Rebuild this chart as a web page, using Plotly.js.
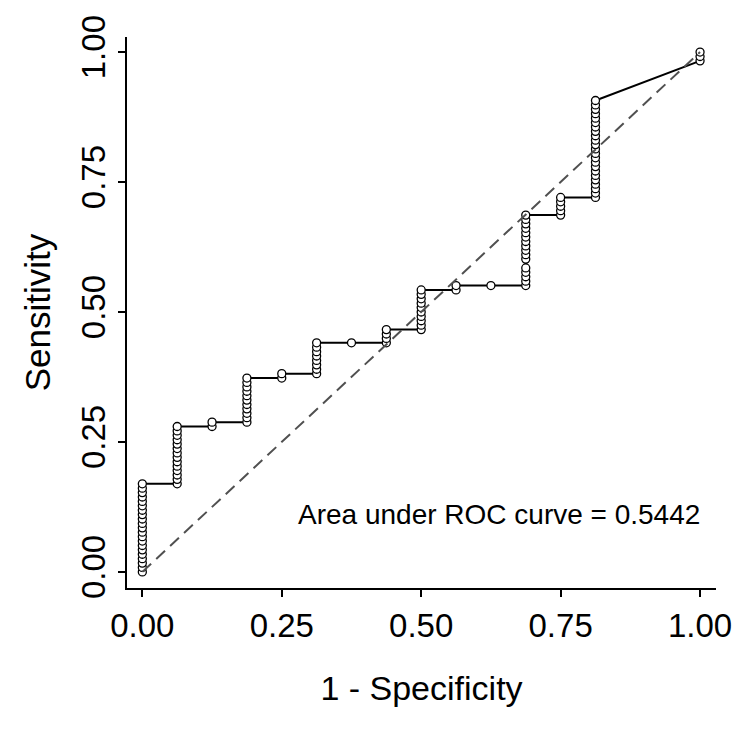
<!DOCTYPE html>
<html>
<head>
<meta charset="utf-8">
<script src="https://cdn.plot.ly/plotly-3.0.1.min.js"></script>
<style>
  html, body { margin: 0; padding: 0; background: #ffffff; }
  #chart { width: 741px; height: 745px; }
</style>
</head>
<body>
<div id="chart"></div>
<script>
// 1 - Specificity levels (one column of ROC points per level)
const fprLevels = [0, 0.0625, 0.125, 0.1875, 0.25, 0.3125, 0.375, 0.4375, 0.5, 0.5625, 0.625, 0.6875, 0.75, 0.8125, 1.0];

// Sensitivity of each ROC point at each level
const sensCol00 = [0, 0.0085, 0.0169, 0.0254, 0.0339, 0.0424, 0.0508, 0.0593, 0.0678, 0.0763, 0.0847, 0.0932, 0.1017, 0.1102, 0.1186, 0.1271, 0.1356, 0.1441, 0.1525, 0.1610, 0.1695];
const sensCol01 = [0.1695, 0.1780, 0.1864, 0.1949, 0.2034, 0.2119, 0.2203, 0.2288, 0.2373, 0.2458, 0.2542, 0.2627, 0.2712, 0.2797];
const sensCol02 = [0.2797, 0.2881];
const sensCol03 = [0.2881, 0.2966, 0.3051, 0.3136, 0.3220, 0.3305, 0.3390, 0.3475, 0.3559, 0.3644, 0.3729];
const sensCol04 = [0.3729, 0.3814];
const sensCol05 = [0.3814, 0.3898, 0.3983, 0.4068, 0.4153, 0.4237, 0.4322, 0.4407];
const sensCol06 = [0.4407];
const sensCol07 = [0.4407, 0.4492, 0.4576, 0.4661];
const sensCol08 = [0.4661, 0.4746, 0.4831, 0.4915, 0.5000, 0.5085, 0.5169, 0.5254, 0.5339, 0.5424];
const sensCol09 = [0.5424, 0.5508];
const sensCol10 = [0.5508];
const sensCol11 = [0.5508, 0.5593, 0.5678, 0.5763, 0.5847, 0.6017, 0.6102, 0.6186, 0.6271, 0.6356, 0.6441, 0.6525, 0.6610, 0.6695, 0.6780, 0.6864];
const sensCol12 = [0.6864, 0.6949, 0.7034, 0.7119, 0.7203];
const sensCol13 = [0.7203, 0.7288, 0.7373, 0.7458, 0.7542, 0.7627, 0.7712, 0.7797, 0.7881, 0.7966, 0.8051, 0.8136, 0.8220, 0.8305, 0.8390, 0.8475, 0.8559, 0.8644, 0.8729, 0.8814, 0.8898, 0.8983, 0.9068];
const sensCol14 = [0.9831, 0.9915, 1.0000];

// Reference (chance) line
const refX = [0, 1];
const refY = [0, 1];

// Tick labels
const tickVals = [0, 0.25, 0.5, 0.75, 1];
const tickText = ['0.00', '0.25', '0.50', '0.75', '1.00'];

const aucLabel = 'Area under ROC curve = 0.5442';

const sensCols = [sensCol00, sensCol01, sensCol02, sensCol03, sensCol04, sensCol05, sensCol06, sensCol07,
                  sensCol08, sensCol09, sensCol10, sensCol11, sensCol12, sensCol13, sensCol14];
const rocX = [], rocY = [];
sensCols.forEach((col, i) => col.forEach(v => { rocX.push(fprLevels[i]); rocY.push(v); }));

const FONT = 'Liberation Sans, Arial, Helvetica, sans-serif';

const traces = [
  {
    x: rocX, y: rocY, type: 'scatter', mode: 'lines+markers',
    line: { color: '#000000', width: 2 },
    marker: { symbol: 'circle', size: 8, color: '#ffffff', line: { color: '#000000', width: 1.3 } },
    hoverinfo: 'x+y', showlegend: false
  },
  {
    x: refX, y: refY, type: 'scatter', mode: 'lines',
    line: { color: '#505050', width: 2, dash: '12px,7px' },
    hoverinfo: 'skip', showlegend: false
  }
];

const axisCommon = {
  showgrid: false, zeroline: false, showline: true, linecolor: '#000000', linewidth: 2,
  ticks: 'outside', ticklen: 7, tickwidth: 2, tickcolor: '#000000',
  tickvals: tickVals, ticktext: tickText,
  tickfont: { family: FONT, size: 33, color: '#000000' },
  automargin: false
};

const layout = {
  width: 741, height: 745,
  margin: { l: 127, r: 25, t: 37, b: 157 },
  paper_bgcolor: '#ffffff', plot_bgcolor: '#ffffff',
  font: { family: FONT, color: '#000000' },
  xaxis: Object.assign({}, axisCommon, {
    range: [-0.0275, 1.0286],
    title: { text: '1 - Specificity', font: { family: FONT, size: 34, color: '#000000' }, standoff: 34 }
  }),
  yaxis: Object.assign({}, axisCommon, {
    range: [-0.031, 1.029],
    tickangle: -90,
    title: { text: 'Sensitivity', font: { family: FONT, size: 35, color: '#000000' }, standoff: 14 }
  }),
  annotations: [{
    x: 1.003, y: 0.1096, xref: 'x', yref: 'y', xanchor: 'right', yanchor: 'middle',
    text: aucLabel, showarrow: false,
    font: { family: FONT, size: 28, color: '#000000' }
  }]
};

Plotly.newPlot('chart', traces, layout, { displayModeBar: false, staticPlot: true });
</script>
</body>
</html>
